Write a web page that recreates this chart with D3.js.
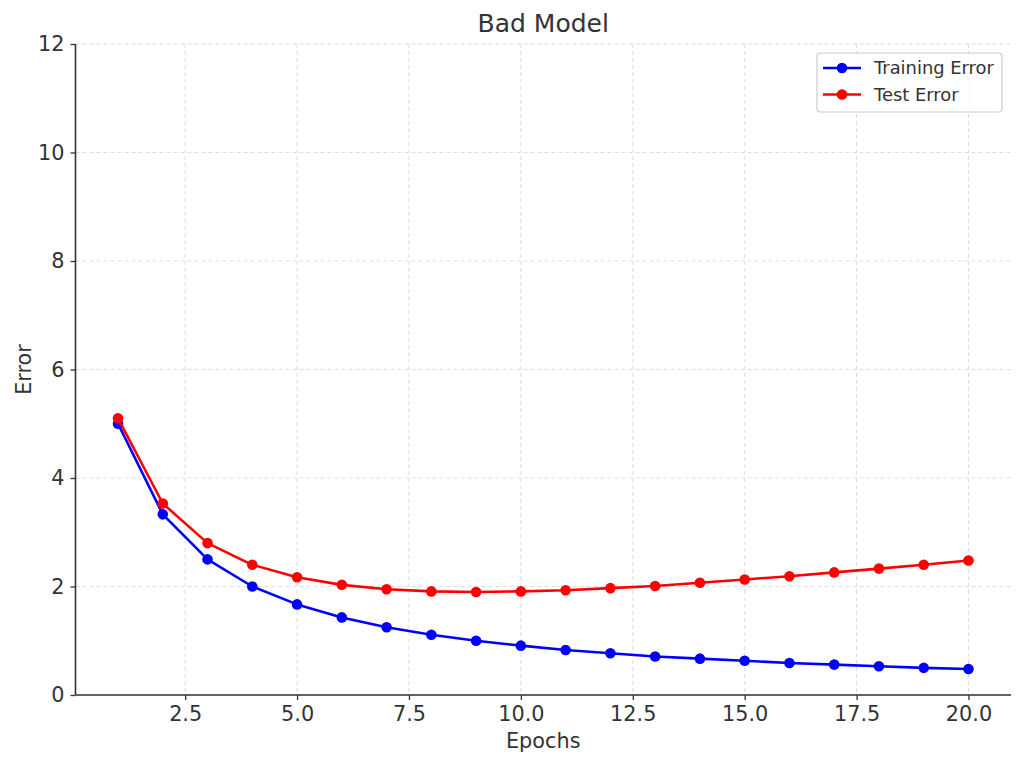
<!DOCTYPE html>
<html>
<head>
<meta charset="utf-8">
<script src="https://cdn.jsdelivr.net/npm/d3@7"></script>
<style>
  html, body { margin: 0; padding: 0; background: #fff; }
  svg { display: block; font-family: "DejaVu Sans", sans-serif; }
</style>
</head>
<body>
<svg id="chart" width="1024" height="765"></svg>
<script>
const epochs = [1,2,3,4,5,6,7,8,9,10,11,12,13,14,15,16,17,18,19,20];
const trainingError = [5.00,3.33,2.50,2.00,1.67,1.43,1.25,1.11,1.00,0.91,0.83,0.77,0.71,0.67,0.63,0.59,0.56,0.53,0.50,0.48];
const testError = [5.10,3.53,2.80,2.40,2.17,2.03,1.95,1.91,1.90,1.91,1.93,1.97,2.01,2.07,2.13,2.19,2.26,2.33,2.40,2.48];
const xTicks = [2.5,5.0,7.5,10.0,12.5,15.0,17.5,20.0];
const yTicks = [0,2,4,6,8,10,12];
const seriesNames = ["Training Error","Test Error"];
const seriesColors = ["#0000ff","#ff0000"];
const title = "Bad Model";
const xLabel = "Epochs";
const yLabel = "Error";

const svg = d3.select("#chart");
const m = {left: 75.5, right: 1011, top: 44, bottom: 695};
const x = d3.scaleLinear().domain([0.05, 20.95]).range([m.left, m.right]);
const y = d3.scaleLinear().domain([0, 12]).range([m.bottom, m.top]);
const textColor = "#333333";

// grid
const grid = svg.append("g");
grid.selectAll("line.gx").data(xTicks).join("line")
  .attr("x1", d => x(d)).attr("x2", d => x(d))
  .attr("y1", m.top).attr("y2", m.bottom)
  .attr("stroke", "#dcdcdc").attr("stroke-width", 1).attr("stroke-dasharray", "4,3");
grid.selectAll("line.gy").data(yTicks).join("line")
  .attr("x1", m.left).attr("x2", m.right)
  .attr("y1", d => y(d)).attr("y2", d => y(d))
  .attr("stroke", "#dcdcdc").attr("stroke-width", 1).attr("stroke-dasharray", "4,3");

// axes
const xAxis = d3.axisBottom(x).tickValues(xTicks).tickFormat(d3.format(".1f")).tickSize(5).tickPadding(6);
const yAxis = d3.axisLeft(y).tickValues(yTicks).tickFormat(d3.format("d")).tickSize(5).tickPadding(6);
const gx = svg.append("g").attr("transform", `translate(0,${m.bottom})`).call(xAxis);
const gy = svg.append("g").attr("transform", `translate(${m.left},0)`).call(yAxis);
[gx, gy].forEach(g => {
  g.selectAll(".tick line").attr("stroke", textColor).attr("stroke-width", 1.3);
  g.selectAll(".tick text").attr("fill", textColor).attr("font-size", "20.8px").attr("font-family", "DejaVu Sans");
});
gx.select(".domain").remove();
gy.select(".domain").remove();
svg.append("line").attr("x1", m.left).attr("x2", m.right).attr("y1", m.bottom).attr("y2", m.bottom)
  .attr("stroke", textColor).attr("stroke-width", 1.6);
svg.append("line").attr("x1", m.left).attr("x2", m.left).attr("y1", m.top).attr("y2", m.bottom)
  .attr("stroke", textColor).attr("stroke-width", 1.6);

// series
const data = [trainingError, testError];
const line = d3.line().x((d, i) => x(epochs[i])).y(d => y(d));
data.forEach((vals, si) => {
  const g = svg.append("g");
  g.append("path").datum(vals).attr("d", line)
    .attr("fill", "none").attr("stroke", seriesColors[si]).attr("stroke-width", 2.6)
    .attr("stroke-linejoin", "round");
  g.selectAll("circle").data(vals).join("circle")
    .attr("cx", (d, i) => x(epochs[i])).attr("cy", d => y(d)).attr("r", 5.3)
    .attr("fill", seriesColors[si]);
});

// title and labels
svg.append("text").attr("x", (m.left + m.right) / 2).attr("y", 32).attr("text-anchor", "middle")
  .attr("font-size", "25px").attr("fill", textColor).text(title);
svg.append("text").attr("x", (m.left + m.right) / 2).attr("y", 748).attr("text-anchor", "middle")
  .attr("font-size", "20.8px").attr("fill", textColor).text(xLabel);
svg.append("text").attr("transform", `translate(31,${(m.top + m.bottom) / 2}) rotate(-90)`)
  .attr("text-anchor", "middle").attr("font-size", "20.8px").attr("fill", textColor).text(yLabel);

// legend
const lg = svg.append("g");
lg.append("rect").attr("x", 817).attr("y", 53).attr("width", 185).attr("height", 59)
  .attr("rx", 3.5).attr("fill", "#ffffff").attr("fill-opacity", 0.8)
  .attr("stroke", "#cccccc").attr("stroke-width", 1.2);
seriesNames.forEach((name, i) => {
  const yy = 68 + i * 26.5;
  lg.append("line").attr("x1", 823).attr("x2", 861).attr("y1", yy).attr("y2", yy)
    .attr("stroke", seriesColors[i]).attr("stroke-width", 2.6);
  lg.append("circle").attr("cx", 842).attr("cy", yy).attr("r", 5.3).attr("fill", seriesColors[i]);
  lg.append("text").attr("x", 874).attr("y", yy + 6).attr("font-size", "17.9px")
    .attr("fill", textColor).text(name);
});
</script>
</body>
</html>
